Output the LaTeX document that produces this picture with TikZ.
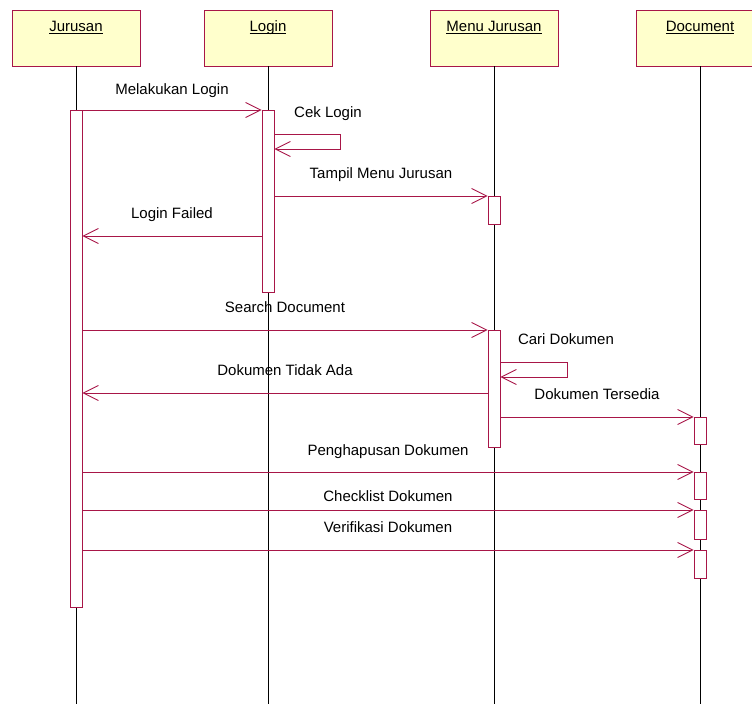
\documentclass[tikz,border=0pt]{standalone}
\usepackage{fontspec}
\setmainfont{Liberation Sans}
\usetikzlibrary{arrows.meta}

\definecolor{umlred}{RGB}{168,22,72}
\definecolor{umlfill}{RGB}{255,255,204}

\tikzset{
  obj/.style={draw=umlred, fill=umlfill, minimum width=128pt, minimum height=56pt, inner sep=0pt, line width=0.9pt},
  bar/.style={draw=umlred, fill=white, minimum width=12pt, inner sep=0pt, line width=0.9pt, anchor=north},
  msg/.style={draw=umlred, line width=0.9pt, -{Straight Barb[length=15pt,width=15pt]}},
  lbl/.style={font=\fontsize{15}{18}\selectfont, inner sep=0pt, anchor=base},
  life/.style={draw=black, line width=0.8pt}
}

\begin{document}
\begin{tikzpicture}[x=1pt,y=-1pt]
    \useasboundingbox (0,0) rectangle (752,704);
    \clip (0,0) rectangle (752,704);

    %objects
    \node[obj] (jur) at (76,38) {};
    \node[obj] (log) at (268,38) {};
    \node[obj] (men) at (494,38) {};
    \node[obj] (doc) at (700,38) {};
    \node[lbl] (jurt) at ([yshift=-22pt]jur.north) {\underline{\smash{Jurusan}}};
    \node[lbl] (logt) at ([yshift=-22pt]log.north) {\underline{\smash{Login}}};
    \node[lbl] (ment) at ([yshift=-22pt]men.north) {\underline{\smash{Menu Jurusan}}};
    \node[lbl] (doct) at ([yshift=-22pt]doc.north) {\underline{\smash{Document}}};

    %lifelines
    \draw[life] (jur.south) -- (jur.south |- 0,704);
    \draw[life] (log.south) -- (log.south |- 0,704);
    \draw[life] (men.south) -- (men.south |- 0,704);
    \draw[life] (doc.south) -- (doc.south |- 0,704);

    %activations
    \node[bar, minimum height=497pt] (jb) at (76,110) {};
    \node[bar, minimum height=182pt] (lb) at (268,110) {};
    \node[bar, minimum height=28pt] (mb1) at (494,196) {};
    \node[bar, minimum height=117pt] (mb2) at (494,330) {};
    \node[bar, minimum height=27pt] (db1) at (700,417) {};
    \node[bar, minimum height=27pt] (db2) at (700,472) {};
    \node[bar, minimum height=29pt] (db3) at (700,510) {};
    \node[bar, minimum height=28pt] (db4) at (700,550) {};

    \coordinate (cek) at (0,134);
    \coordinate (fail) at (0,236);
    \coordinate (cari) at (0,362);
    \coordinate (tidak) at (0,393);

    %messages
    \draw[msg] (jb.north east) -- (lb.north west) node[lbl, midway, yshift=16pt]{Melakukan Login};
    \draw[msg] (lb.east |- cek) -- ++(66,0) -- ++(0,15) -- ++(-66,0);
    \node[lbl] (cekt) at (328,117) {Cek Login};
    \draw[msg] (lb.east |- mb1.north) -- (mb1.north west) node[lbl, midway, yshift=18pt]{Tampil Menu Jurusan};
    \draw[msg] (lb.west |- fail) -- (jb.east |- fail) node[lbl, midway, yshift=18pt]{Login Failed};
    \draw[msg] (jb.east |- mb2.north) -- (mb2.north west) node[lbl, midway, yshift=18pt]{Search Document};
    \draw[msg] (mb2.east |- cari) -- ++(67,0) -- ++(0,15) -- ++(-67,0);
    \node[lbl] (carit) at (566,344) {Cari Dokumen};
    \draw[msg] (mb2.west |- tidak) -- (jb.east |- tidak) node[lbl, midway, yshift=18pt]{Dokumen Tidak Ada};
    \draw[msg] (mb2.east |- db1.north) -- (db1.north west) node[lbl, midway, yshift=18pt]{Dokumen Tersedia};
    \draw[msg] (jb.east |- db2.north) -- (db2.north west) node[lbl, midway, yshift=17pt]{Penghapusan Dokumen};
    \draw[msg] (jb.east |- db3.north) -- (db3.north west) node[lbl, midway, yshift=9pt]{Checklist Dokumen};
    \draw[msg] (jb.east |- db4.north) -- (db4.north west) node[lbl, midway, yshift=18pt]{Verifikasi Dokumen};
\end{tikzpicture}
\end{document}
